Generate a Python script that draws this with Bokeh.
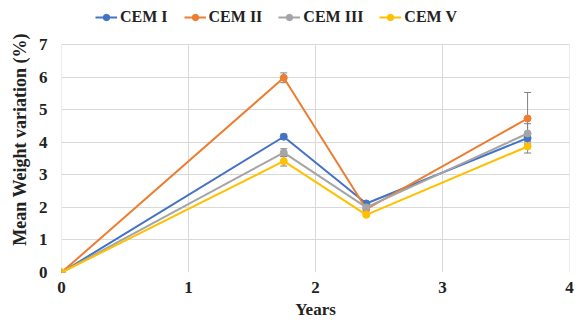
from bokeh.plotting import figure
from bokeh.models import Legend, LegendItem, Whisker, ColumnDataSource, FixedTicker, Range1d
from bokeh.embed import file_html
from bokeh.resources import INLINE

years = [0, 1.75, 2.4, 3.67]
series_names = ["CEM I", "CEM II", "CEM III", "CEM V"]
cem1 = [0, 4.17, 2.12, 4.13]
cem2 = [0, 5.98, 1.95, 4.73]
cem3 = [0, 3.68, 2.00, 4.27]
cem5 = [0, 3.42, 1.77, 3.87]
err1 = [0, 0.08, 0.05, 0.10]
err2 = [0, 0.15, 0.05, 0.80]
err3 = [0, 0.12, 0.05, 0.30]
err5 = [0, 0.15, 0.05, 0.20]
x_ticks = [0, 1, 2, 3, 4]
y_ticks = [0, 1, 2, 3, 4, 5, 6, 7]

colors = ["#4472C4", "#ED7D31", "#A5A5A5", "#FFC000"]
FONT = "Liberation Serif"
GRID = "#D9D9D9"

# frame extends above y=7 to leave room for the legend inside the frame
p = figure(width=579, height=325, output_backend="svg", toolbar_location=None,
           x_range=Range1d(x_ticks[0], x_ticks[-1]), y_range=Range1d(0, 8.17),
           min_border_left=61, min_border_right=10, min_border_bottom=53, min_border_top=6)

p.xaxis.ticker = FixedTicker(ticks=x_ticks)
p.yaxis.ticker = FixedTicker(ticks=y_ticks)
p.yaxis.bounds = (y_ticks[0], y_ticks[-1])
for ax in (p.xaxis[0], p.yaxis[0]):
    ax.axis_line_color = None
    ax.major_tick_line_color = None
    ax.minor_tick_line_color = None
    ax.major_tick_out = 0
    ax.major_tick_in = 0
    ax.minor_tick_out = 0
    ax.minor_tick_in = 0
    ax.major_label_text_font = FONT
    ax.major_label_text_font_style = "bold"
    ax.major_label_text_font_size = "17px"
    ax.major_label_text_color = "#222222"
    ax.axis_label_text_font = FONT
    ax.axis_label_text_font_style = "bold"
    ax.axis_label_text_color = "#222222"
p.xaxis.axis_label = "Years"
p.yaxis.axis_label = "Mean Weight variation (%)"
p.xaxis.axis_label_text_font_size = "17px"
p.yaxis.axis_label_text_font_size = "18px"
p.xaxis.major_label_standoff = 9
p.yaxis.major_label_standoff = 14
p.xaxis.axis_label_standoff = 4
p.yaxis.axis_label_standoff = 6

p.xgrid.grid_line_color = None
p.ygrid.grid_line_color = GRID
p.outline_line_color = None

# vertical gridlines limited to the 0..7 band
p.segment(x0=x_ticks, y0=[y_ticks[0]] * len(x_ticks), x1=x_ticks,
          y1=[y_ticks[-1]] * len(x_ticks), line_color=GRID, line_width=1)

items = []
for name, vals, errs, c in zip(series_names, [cem1, cem2, cem3, cem5],
                               [err1, err2, err3, err5], colors):
    src = ColumnDataSource(dict(x=years, y=vals,
                                lo=[v - e for v, e in zip(vals, errs)],
                                hi=[v + e for v, e in zip(vals, errs)]))
    w = Whisker(source=src, base="x", lower="lo", upper="hi",
                line_color="#808080", line_width=1)
    w.upper_head.size = 7
    w.lower_head.size = 7
    w.upper_head.line_color = "#808080"
    w.lower_head.line_color = "#808080"
    p.add_layout(w)
    r1 = p.line("x", "y", source=src, line_color=c, line_width=2)
    r2 = p.scatter("x", "y", source=src, size=7, fill_color=c, line_color=c)
    items.append(LegendItem(label=name, renderers=[r1, r2]))

legend = Legend(items=items, orientation="horizontal", location=(34, 246),
                label_text_font=FONT, label_text_font_style="bold",
                label_text_font_size="16px", label_text_color="#222222",
                border_line_color=None, background_fill_alpha=0,
                glyph_width=22, glyph_height=16, spacing=16, padding=0, margin=0,
                label_standoff=3)
p.add_layout(legend, "center")

open("out.html", "w").write(file_html(p, INLINE))
